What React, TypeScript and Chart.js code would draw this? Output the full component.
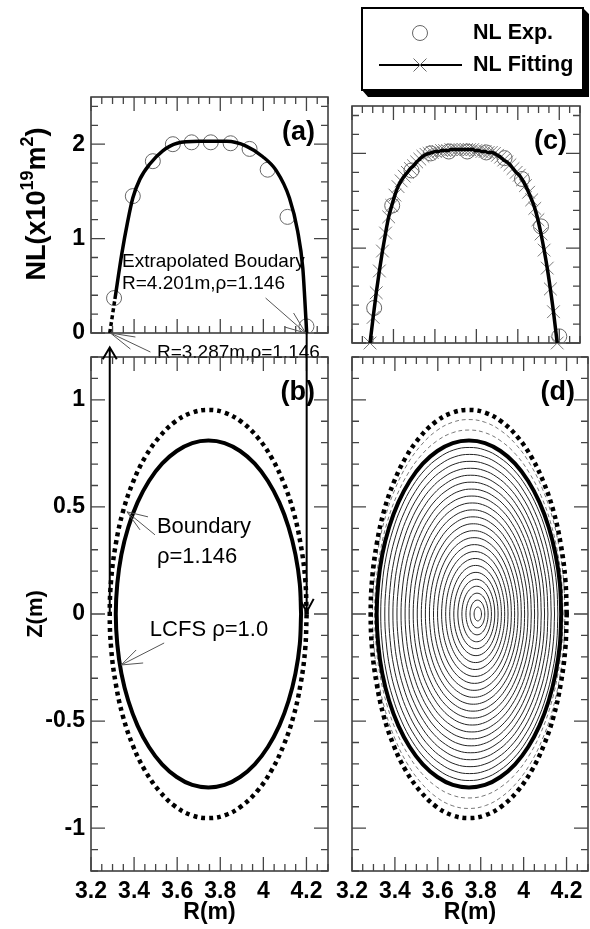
import React, { useEffect, useRef } from 'react';
import { Chart, registerables } from 'chart.js';
Chart.register(...registerables);

const W = 590;
const H = 929;
const FONT = "'Liberation Sans', Arial, Helvetica, sans-serif";

// ---------- data ----------
const xTickLabels = ['3.2', '3.4', '3.6', '3.8', '4', '4.2'];
const nlTickLabels = ['0', '1', '2'];
const zTickLabels = ['-1', '-0.5', '0', '0.5', '1'];

// NL experimental points (R in m, NL in 1e19 m^-2)
const expR = [3.307, 3.394, 3.487, 3.58, 3.667, 3.756, 3.848, 3.936, 4.02, 4.112, 4.2];
const expNL = [0.37, 1.45, 1.82, 2.0, 2.02, 2.02, 2.01, 1.95, 1.73, 1.23, 0.07];

// (a) fitted NL curve
const fitAR = [3.311, 3.343, 3.371, 3.394, 3.427, 3.473, 3.533, 3.6, 3.7, 3.83, 3.92, 3.996, 4.06, 4.121, 4.159, 4.183, 4.192, 4.201];
const fitANL = [0.36, 0.84, 1.19, 1.43, 1.63, 1.79, 1.93, 2.01, 2.03, 2.03, 1.98, 1.87, 1.72, 1.43, 1.08, 0.69, 0.37, 0.0];
// (a) extrapolated part to the boundary
const extrapR = [3.287, 3.311];
const extrapNL = [0.0, 0.36];

// (c) fitted NL (chord positions)
const fitCR = [3.287, 3.302, 3.317, 3.332, 3.347, 3.362, 3.377, 3.392, 3.407, 3.422, 3.437, 3.452, 3.467, 3.482, 3.497, 3.512, 3.527, 3.542, 3.557, 3.572, 3.587, 3.602, 3.617, 3.632, 3.647, 3.662, 3.677, 3.692, 3.707, 3.722, 3.737, 3.752, 3.767, 3.782, 3.797, 3.812, 3.827, 3.842, 3.857, 3.872, 3.887, 3.902, 3.917, 3.932, 3.947, 3.962, 3.977, 3.992, 4.007, 4.022, 4.037, 4.052, 4.067, 4.082, 4.097, 4.112, 4.127, 4.142, 4.157, 4.172, 4.19];
const fitCNL = [0.0, 0.27, 0.53, 0.76, 0.97, 1.16, 1.33, 1.45, 1.56, 1.65, 1.71, 1.76, 1.8, 1.84, 1.87, 1.91, 1.94, 1.97, 1.99, 2.0, 2.01, 2.02, 2.02, 2.03, 2.03, 2.03, 2.04, 2.04, 2.04, 2.04, 2.04, 2.04, 2.04, 2.04, 2.03, 2.03, 2.02, 2.02, 2.01, 2.01, 2.0, 1.98, 1.96, 1.93, 1.91, 1.88, 1.84, 1.8, 1.77, 1.72, 1.66, 1.59, 1.51, 1.42, 1.3, 1.15, 0.98, 0.79, 0.57, 0.33, 0.0];

// LCFS (rho = 1.0)
const lcfsR = [4.175, 4.169, 4.149, 4.117, 4.074, 4.021, 3.96, 3.892, 3.82, 3.745, 3.67, 3.598, 3.53, 3.469, 3.416, 3.373, 3.341, 3.322, 3.315, 3.322, 3.341, 3.373, 3.416, 3.469, 3.53, 3.598, 3.67, 3.745, 3.82, 3.892, 3.96, 4.021, 4.074, 4.117, 4.149, 4.169, 4.175];
const lcfsZ = [0, 0.141, 0.277, 0.405, 0.521, 0.621, 0.702, 0.761, 0.798, 0.81, 0.798, 0.761, 0.702, 0.621, 0.521, 0.405, 0.277, 0.141, 0, -0.141, -0.277, -0.405, -0.521, -0.621, -0.702, -0.761, -0.798, -0.81, -0.798, -0.761, -0.702, -0.621, -0.521, -0.405, -0.277, -0.141, 0];
// Boundary (rho = 1.146)
const bndR = [4.201, 4.194, 4.173, 4.14, 4.094, 4.038, 3.973, 3.9, 3.823, 3.744, 3.665, 3.588, 3.516, 3.45, 3.394, 3.348, 3.315, 3.294, 3.287, 3.294, 3.315, 3.348, 3.394, 3.45, 3.516, 3.588, 3.665, 3.744, 3.823, 3.9, 3.973, 4.038, 4.094, 4.14, 4.173, 4.194, 4.201];
const bndZ = [0, 0.166, 0.326, 0.477, 0.613, 0.73, 0.825, 0.896, 0.939, 0.953, 0.939, 0.896, 0.825, 0.73, 0.613, 0.477, 0.326, 0.166, 0, -0.166, -0.326, -0.477, -0.613, -0.73, -0.825, -0.896, -0.939, -0.953, -0.939, -0.896, -0.825, -0.73, -0.613, -0.477, -0.326, -0.166, 0];
const bndRho = 1.146;
// magnetic axis
const axisR = 3.788;
const axisZ = 0.0;
// flux surface levels in (d)
const rhoInner = [0.04, 0.08, 0.12, 0.16, 0.2, 0.24, 0.28, 0.32, 0.36, 0.4, 0.44, 0.48, 0.52, 0.56, 0.6, 0.64, 0.68, 0.72, 0.76, 0.8, 0.84, 0.88, 0.92, 0.96];
const rhoOuter = [1.05, 1.1];

// ---------- helpers ----------
const pts = (xs: number[], ys: number[]) => xs.map((x, i) => ({ x, y: ys[i] }));

function drawFrame(chart: any, xMinor: number, xMajor: number, yMinor: number, yMajor: number) {
  const { ctx, chartArea: a, scales } = chart;
  const xs = scales.x;
  const ys = scales.y;
  ctx.save();
  ctx.strokeStyle = '#333';
  ctx.lineWidth = 1.5;
  ctx.strokeRect(a.left, a.top, a.right - a.left, a.bottom - a.top);
  ctx.strokeStyle = '#444';
  ctx.lineWidth = 1.3;
  const loop = (min: number, max: number, minor: number, major: number, fn: (v: number, len: number) => void) => {
    const s = Math.ceil(min / minor - 1e-6);
    const e = Math.floor(max / minor + 1e-6);
    for (let i = s; i <= e; i++) {
      const v = i * minor;
      const r = v / major;
      fn(v, Math.abs(r - Math.round(r)) < 1e-6 ? 14 : 7);
    }
  };
  ctx.beginPath();
  loop(xs.min, xs.max, xMinor, xMajor, (v, len) => {
    const p = xs.getPixelForValue(v);
    ctx.moveTo(p, a.bottom); ctx.lineTo(p, a.bottom - len);
    ctx.moveTo(p, a.top); ctx.lineTo(p, a.top + len);
  });
  loop(ys.min, ys.max, yMinor, yMajor, (v, len) => {
    const p = ys.getPixelForValue(v);
    ctx.moveTo(a.left, p); ctx.lineTo(a.left + len, p);
    ctx.moveTo(a.right, p); ctx.lineTo(a.right - len, p);
  });
  ctx.stroke();
  ctx.restore();
}

function panelLabel(chart: any, text: string) {
  const { ctx, chartArea: a } = chart;
  ctx.save();
  ctx.fillStyle = '#000';
  ctx.font = `bold 27px ${FONT}`;
  ctx.textAlign = 'right';
  ctx.textBaseline = 'middle';
  ctx.fillText(text, a.right - 13, a.top + 36);
  ctx.restore();
}

function textAt(ctx: any, text: string, x: number, y: number, size: number, weight = 'normal', align = 'left') {
  ctx.save();
  ctx.fillStyle = '#000';
  ctx.font = `${weight} ${size}px ${FONT}`;
  ctx.textAlign = align;
  ctx.textBaseline = 'middle';
  ctx.fillText(text, x, y);
  ctx.restore();
}

function pointer(ctx: any, tx: number, ty: number, offs: number[][]) {
  ctx.save();
  ctx.strokeStyle = '#555';
  ctx.lineWidth = 1;
  ctx.beginPath();
  for (const [dx, dy] of offs) { ctx.moveTo(tx, ty); ctx.lineTo(tx + dx, ty + dy); }
  ctx.stroke();
  ctx.restore();
}

function drawNLTitle(ctx: any, cx: number, cy: number) {
  const big = 27;
  const small = 18;
  const parts: [string, boolean][] = [['NL(x10', false], ['19', true], ['m', false], ['2', true], [')', false]];
  ctx.save();
  ctx.translate(cx, cy);
  ctx.rotate(-Math.PI / 2);
  ctx.fillStyle = '#000';
  ctx.textAlign = 'left';
  ctx.textBaseline = 'alphabetic';
  let total = 0;
  for (const [t, sup] of parts) { ctx.font = `bold ${sup ? small : big}px ${FONT}`; total += ctx.measureText(t).width; }
  let x = -total / 2;
  const base = big * 0.36;
  for (const [t, sup] of parts) {
    ctx.font = `bold ${sup ? small : big}px ${FONT}`;
    ctx.fillText(t, x, sup ? base - big * 0.45 : base);
    x += ctx.measureText(t).width;
  }
  ctx.restore();
}

const tickFont = { family: FONT, size: 23, weight: 'bold' as const };

function xScale(show: boolean) {
  const s: any = {
    type: 'linear', min: 3.2, max: 4.3, display: show,
    grid: { display: false, drawTicks: false }, border: { display: false },
    ticks: { stepSize: 0.2, includeBounds: false, autoSkip: false, maxRotation: 0, minRotation: 0, padding: 7, color: '#000', font: tickFont, callback: (_v: any, i: number) => xTickLabels[i] },
    title: { display: show, text: 'R(m)', color: '#000', font: { family: FONT, size: 23, weight: 'bold' }, padding: { top: 0, bottom: 3 } },
  };
  if (show) s.afterFit = (sc: any) => { sc.height = 58; };
  return s;
}

function yScale(show: boolean, kind: 'nl' | 'z') {
  const nl = kind === 'nl';
  const s: any = {
    type: 'linear', min: nl ? 0 : -1.2, max: nl ? 2.5 : 1.2, display: show,
    grid: { display: false, drawTicks: false }, border: { display: false },
    ticks: { stepSize: nl ? 1 : 0.5, includeBounds: false, autoSkip: false, padding: 6, color: '#000', font: tickFont, callback: (_v: any, i: number) => (nl ? nlTickLabels[i] : zTickLabels[i]) },
    title: { display: show && !nl, text: 'Z(m)', color: '#000', font: { family: FONT, size: 22, weight: 'bold' }, padding: { top: 23, bottom: 0 } },
  };
  if (show) s.afterFit = (sc: any) => { sc.width = 91; };
  return s;
}

function baseOptions(padding: any, scales: any) {
  return {
    responsive: false, maintainAspectRatio: false, animation: false as const, events: [],
    layout: { padding },
    plugins: { legend: { display: false }, tooltip: { enabled: false } },
    scales,
  };
}

// ---------- charts ----------
function makeA(canvas: HTMLCanvasElement) {
  return new Chart(canvas, {
    type: 'scatter',
    data: {
      datasets: [
        { label: 'NL Fitting', data: pts(fitAR, fitANL), showLine: true, borderColor: '#000', borderWidth: 3.5, pointRadius: 0, cubicInterpolationMode: 'monotone', clip: false },
        { label: 'extrapolated', data: pts(extrapR, extrapNL), showLine: true, borderColor: '#000', borderWidth: 3.5, borderDash: [4, 3], pointRadius: 0, clip: false },
        { label: 'NL Exp.', data: pts(expR, expNL), showLine: false, pointStyle: 'circle', pointRadius: 7.5, borderColor: '#666', pointBorderColor: '#666', pointBackgroundColor: 'rgba(0,0,0,0)', borderWidth: 1, clip: false },
      ],
    } as any,
    options: baseOptions({ left: 0, top: 97, right: W - 328, bottom: H - 333 }, { x: xScale(false), y: yScale(true, 'nl') }) as any,
    plugins: [{
      id: 'decoA',
      beforeDatasetsDraw(chart: any) { drawFrame(chart, 0.05, 0.2, 0.2, 1); },
      afterDraw(chart: any) {
        const { ctx, scales } = chart;
        const X = (v: number) => scales.x.getPixelForValue(v);
        const Y = (v: number) => scales.y.getPixelForValue(v);
        panelLabel(chart, '(a)');
        drawNLTitle(ctx, 35, 204);
        textAt(ctx, 'Extrapolated Boudary', X(3.344), Y(0.75), 19);
        textAt(ctx, 'R=4.201m,\u03c1=1.146', X(3.344), Y(0.52), 19);
        pointer(ctx, X(4.196), Y(0.0), [[-40, -35], [-12, -20], [-21, -6]]);
        textAt(ctx, 'R=3.287m,\u03c1=1.146', X(3.506), Y(-0.21), 19);
        pointer(ctx, X(3.29), Y(0.0), [[40, 19], [25, 4], [20, 16]]);
      },
    }],
  });
}

function makeB(canvas: HTMLCanvasElement) {
  return new Chart(canvas, {
    type: 'scatter',
    data: {
      datasets: [
        { label: 'LCFS', data: pts(lcfsR, lcfsZ), showLine: true, borderColor: '#000', borderWidth: 4, pointRadius: 0, tension: 0.4, clip: false },
        { label: 'Boundary', data: pts(bndR, bndZ), showLine: true, borderColor: '#000', borderWidth: 4.5, borderDash: [4, 4], pointRadius: 0, tension: 0.4, clip: false },
      ],
    } as any,
    options: baseOptions({ left: 0, top: 357, right: W - 328, bottom: 0 }, { x: xScale(true), y: yScale(true, 'z') }) as any,
    plugins: [{
      id: 'decoB',
      beforeDatasetsDraw(chart: any) { drawFrame(chart, 0.05, 0.2, 0.1, 0.5); },
      afterDraw(chart: any) {
        const { ctx, scales } = chart;
        const X = (v: number) => scales.x.getPixelForValue(v);
        const Y = (v: number) => scales.y.getPixelForValue(v);
        panelLabel(chart, '(b)');
        // vertical chord arrows
        ctx.save();
        ctx.strokeStyle = '#000';
        ctx.lineWidth = 2;
        const lx = X(bndR[18]);
        const ly0 = Y(0.0);
        const ly1 = Y(1.245);
        ctx.beginPath();
        ctx.moveTo(lx, ly0); ctx.lineTo(lx, ly1);
        ctx.moveTo(lx - 7, ly1 + 12); ctx.lineTo(lx, ly1); ctx.lineTo(lx + 7, ly1 + 12);
        const rx = X(bndR[0]);
        const ry0 = Y(1.312);
        const ry1 = Y(0.01);
        ctx.moveTo(rx, ry0); ctx.lineTo(rx, ry1);
        ctx.moveTo(rx - 7, ry1 - 13); ctx.lineTo(rx, ry1); ctx.lineTo(rx + 7, ry1 - 13);
        ctx.stroke();
        ctx.restore();
        textAt(ctx, 'Boundary', X(3.506), Y(0.407), 22);
        textAt(ctx, '\u03c1=1.146', X(3.506), Y(0.266), 22);
        pointer(ctx, X(3.367), Y(0.477), [[28, 23], [21, 5], [13, 18]]);
        textAt(ctx, 'LCFS \u03c1=1.0', X(3.473), Y(-0.075), 22);
        pointer(ctx, X(3.34), Y(-0.238), [[43, -22], [15, -15], [22, -2]]);
      },
    }],
  });
}

function makeC(canvas: HTMLCanvasElement) {
  return new Chart(canvas, {
    type: 'scatter',
    data: {
      datasets: [
        { label: 'fit line', data: pts(fitCR, fitCNL), showLine: true, borderColor: '#000', borderWidth: 3.5, pointRadius: 0, cubicInterpolationMode: 'monotone', clip: false },
        { label: 'NL Fitting', data: pts(fitCR, fitCNL), showLine: false, pointStyle: 'crossRot', pointRadius: 9, borderColor: '#777', pointBorderColor: '#777', borderWidth: 1, clip: false },
        { label: 'NL Exp.', data: pts(expR, expNL), showLine: false, pointStyle: 'circle', pointRadius: 7.5, borderColor: '#666', pointBorderColor: '#666', pointBackgroundColor: 'rgba(0,0,0,0)', borderWidth: 1, clip: false },
      ],
    } as any,
    options: baseOptions({ left: 352, top: 106, right: W - 588, bottom: H - 343 }, { x: xScale(false), y: yScale(false, 'nl') }) as any,
    plugins: [{
      id: 'decoC',
      beforeDatasetsDraw(chart: any) { drawFrame(chart, 0.05, 0.2, 0.2, 1); },
      afterDraw(chart: any) {
        const { ctx } = chart;
        panelLabel(chart, '(c)');
        // legend box with 3D shadow
        const L = 362, T = 8, R = 583, B = 90;
        ctx.save();
        ctx.fillStyle = '#000';
        ctx.beginPath();
        ctx.moveTo(R, T); ctx.lineTo(R + 6, T + 6); ctx.lineTo(R + 6, B + 7); ctx.lineTo(L + 6, B + 7); ctx.lineTo(L, B); ctx.lineTo(R, B); ctx.closePath();
        ctx.fill();
        ctx.fillStyle = '#fff';
        ctx.fillRect(L, T, R - L, B - T);
        ctx.strokeStyle = '#000';
        ctx.lineWidth = 2;
        ctx.strokeRect(L, T, R - L, B - T);
        const ds = chart.data.datasets;
        // NL Exp.
        ctx.strokeStyle = '#666';
        ctx.lineWidth = 1;
        ctx.beginPath(); ctx.arc(420, 33, 7.5, 0, Math.PI * 2); ctx.stroke();
        // NL Fitting
        ctx.strokeStyle = '#000';
        ctx.lineWidth = 2;
        ctx.beginPath(); ctx.moveTo(379, 65); ctx.lineTo(462, 65); ctx.stroke();
        ctx.strokeStyle = '#666';
        ctx.lineWidth = 1;
        ctx.beginPath();
        ctx.moveTo(420 - 6.5, 65 - 6.5); ctx.lineTo(420 + 6.5, 65 + 6.5);
        ctx.moveTo(420 - 6.5, 65 + 6.5); ctx.lineTo(420 + 6.5, 65 - 6.5);
        ctx.stroke();
        ctx.restore();
        textAt(ctx, ds[2].label, 473, 33, 21.5, 'bold');
        textAt(ctx, ds[1].label, 473, 65, 21.5, 'bold');
      },
    }],
  });
}

function makeD(canvas: HTMLCanvasElement) {
  const inner = rhoInner.map((rho) => ({
    label: `rho=${rho}`,
    data: lcfsR.map((r, i) => ({ x: axisR + rho * (r - axisR), y: axisZ + rho * (lcfsZ[i] - axisZ) })),
    showLine: true, borderColor: '#222', borderWidth: 1, pointRadius: 0, tension: 0.4, clip: false,
  }));
  const outer = rhoOuter.map((rho) => {
    const f = (rho - 1) / (bndRho - 1);
    return {
      label: `rho=${rho}`,
      data: lcfsR.map((r, i) => ({ x: r + f * (bndR[i] - r), y: lcfsZ[i] + f * (bndZ[i] - lcfsZ[i]) })),
      showLine: true, borderColor: '#777', borderWidth: 1, borderDash: [4, 3], pointRadius: 0, tension: 0.4, clip: false,
    };
  });
  return new Chart(canvas, {
    type: 'scatter',
    data: {
      datasets: [
        { label: 'LCFS', data: pts(lcfsR, lcfsZ), showLine: true, borderColor: '#000', borderWidth: 4, pointRadius: 0, tension: 0.4, clip: false },
        { label: 'Boundary', data: pts(bndR, bndZ), showLine: true, borderColor: '#000', borderWidth: 4.5, borderDash: [4, 4], pointRadius: 0, tension: 0.4, clip: false },
        ...outer,
        ...inner,
      ],
    } as any,
    options: baseOptions({ left: 352, top: 357, right: W - 588, bottom: 0 }, { x: xScale(true), y: yScale(false, 'z') }) as any,
    plugins: [{
      id: 'decoD',
      beforeDatasetsDraw(chart: any) { drawFrame(chart, 0.05, 0.2, 0.1, 0.5); },
      afterDraw(chart: any) { panelLabel(chart, '(d)'); },
    }],
  });
}

export default function App() {
  const refA = useRef<HTMLCanvasElement>(null);
  const refB = useRef<HTMLCanvasElement>(null);
  const refC = useRef<HTMLCanvasElement>(null);
  const refD = useRef<HTMLCanvasElement>(null);
  useEffect(() => {
    const charts = [makeA(refA.current!), makeB(refB.current!), makeC(refC.current!), makeD(refD.current!)];
    return () => charts.forEach((c) => c.destroy());
  }, []);
  const cs: React.CSSProperties = { position: 'absolute', left: 0, top: 0, width: W, height: H };
  return (
    <div style={{ position: 'absolute', left: 0, top: 0, width: W, height: H, background: '#fff', overflow: 'hidden' }}>
      <canvas ref={refA} width={W} height={H} style={cs} />
      <canvas ref={refB} width={W} height={H} style={cs} />
      <canvas ref={refC} width={W} height={H} style={cs} />
      <canvas ref={refD} width={W} height={H} style={cs} />
    </div>
  );
}
